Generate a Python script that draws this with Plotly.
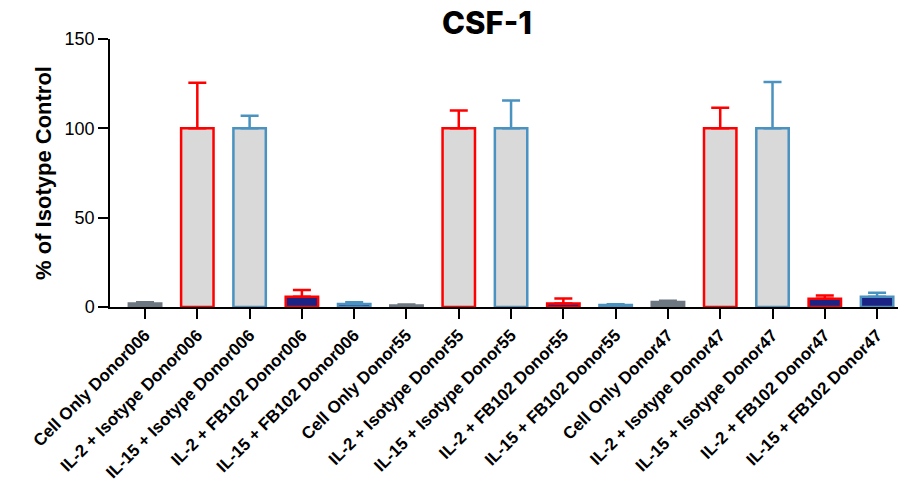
import plotly.graph_objects as go

categories = [
    "Cell Only Donor006", "IL-2 + Isotype Donor006", "IL-15 + Isotype Donor006",
    "IL-2 + FB102 Donor006", "IL-15 + FB102 Donor006",
    "Cell Only Donor55", "IL-2 + Isotype Donor55", "IL-15 + Isotype Donor55",
    "IL-2 + FB102 Donor55", "IL-15 + FB102 Donor55",
    "Cell Only Donor47", "IL-2 + Isotype Donor47", "IL-15 + Isotype Donor47",
    "IL-2 + FB102 Donor47", "IL-15 + FB102 Donor47",
]
values = [2.0, 100, 100, 5.8, 1.7,
          0.9, 100, 100, 2.0, 1.1,
          2.8, 100, 100, 4.6, 5.8]
errors = [0.6, 25.5, 7.0, 3.7, 0.9,
          0.5, 10.0, 15.6, 2.7, 0.5,
          0.7, 11.5, 26.0, 1.8, 2.2]
groups = ["Cell Only", "IL-2 + Isotype", "IL-15 + Isotype", "IL-2 + FB102", "IL-15 + FB102"]
y_ticks = [0, 50, 100, 150]

styles = {
    "Cell Only": dict(fill="#6c7781", line="#6c7781"),
    "IL-2 + Isotype": dict(fill="#d9d9d9", line="#ff0000"),
    "IL-15 + Isotype": dict(fill="#d9d9d9", line="#4a92bf"),
    "IL-2 + FB102": dict(fill="#1b2384", line="#ff0000"),
    "IL-15 + FB102": dict(fill="#1b2384", line="#4a92bf"),
}

fig = go.Figure()
for g in groups:
    xs, ys, es = [], [], []
    for c, v, e in zip(categories, values, errors):
        if c.startswith(g + " Donor"):
            xs.append(c); ys.append(v); es.append(e)
    st = styles[g]
    fig.add_trace(go.Bar(
        x=xs, y=ys, width=0.62, name=g,
        marker=dict(color=st["fill"], line=dict(color=st["line"], width=2.5)),
        error_y=dict(type="data", array=es, symmetric=False, arrayminus=[0]*len(es),
                     color=st["line"], thickness=2.5, width=9, visible=True),
        showlegend=False,
    ))

fig.update_layout(
    width=912, height=490,
    margin=dict(l=110, r=14, t=39, b=183, pad=0),
    plot_bgcolor="white", paper_bgcolor="white",
    barmode="overlay",
    title=dict(text="CSF-1", x=0.534, xanchor="center", y=0.952, yanchor="middle",
               font=dict(family="Inter", size=31, color="black", weight=800)),
    font=dict(family="Liberation Sans, Arial", color="black"),
)
fig.update_xaxes(
    type="category", categoryorder="array", categoryarray=categories,
    range=[-0.67, 14.4], automargin=False,
    showline=True, linecolor="black", linewidth=1.5,
    ticks="outside", ticklen=10, tickwidth=1.5, tickcolor="black",
    tickangle=-45, tickfont=dict(family="Liberation Sans, Arial", size=17, color="black", weight="bold"),
    showgrid=False, zeroline=False,
)
fig.update_yaxes(
    range=[0, 150], tickvals=y_ticks, automargin=False,
    showline=True, linecolor="black", linewidth=1.5,
    ticks="outside", ticklen=10, tickwidth=1.5, tickcolor="black",
    tickfont=dict(family="Liberation Sans, Arial", size=18, color="black"),
    title=dict(text="% of Isotype Control", standoff=7,
               font=dict(family="Liberation Sans, Arial", size=22, color="black", weight="bold")),
    showgrid=False, zeroline=False,
)

fig.write_html("out.html", config={"displayModeBar": False})
with open("out.html", "r", encoding="utf-8") as f:
    html = f.read()
html = html.replace("<body>", '<body style="margin:0;padding:0;overflow:hidden">', 1)
with open("out.html", "w", encoding="utf-8") as f:
    f.write(html)
